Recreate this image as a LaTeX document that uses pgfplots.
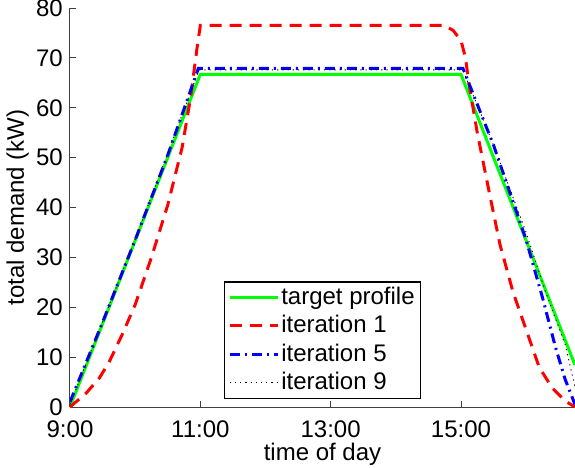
\documentclass[border=0pt]{standalone}
\usepackage{pgfplots}
\pgfplotsset{compat=1.18}
\usepackage{fontspec}
\setmainfont{Liberation Sans}
\newcommand{\bigf}{\fontsize{24bp}{28bp}\selectfont}
\begin{document}
\bigf
\begin{tikzpicture}
\begin{axis}[
  at={(0,0)}, anchor=south west,
  scale only axis, width=505bp, height=399bp,
  xmin=9, xmax=16.75, ymin=0, ymax=80,
  axis lines=left,
  axis line style={-, draw=black!75, line width=1bp},
  every tick/.style={draw=black!75, line width=0.8bp},
  tick align=inside, major tick length=6bp,
  xtick={9,11,13,15}, xticklabels={9:00,11:00,13:00,15:00},
  ytick={0,10,...,80},
  /pgf/number format/assume math mode=true,
  tick label style={font=\bigf},
  yticklabel style={inner xsep=7bp, inner ysep=2bp},
  xticklabel style={inner ysep=7bp, yshift=-7bp},
  label style={font=\bigf},
  xlabel={time of day}, ylabel={total demand (kW)},
  xlabel style={yshift=10bp},
  ylabel style={yshift=-8bp},
  legend style={at={(0.5,0.02)}, anchor=south, draw=black, line width=1.2bp,
    font=\bigf, row sep=3.5bp, inner xsep=4bp, inner ysep=3bp},
  legend cell align=left,
  legend image code/.code={\draw[#1] (0bp,0bp) -- (48bp,0bp);},
]
\addplot[draw={rgb,1:red,0;green,1;blue,0}, line width=3bp] coordinates {
(9,0) (11,66.7) (15,66.7) (16.75,8.4)};
\addplot[draw=red, line width=3bp, dash pattern=on 12bp off 8bp] coordinates {
(9,0) (9.25,2.8) (9.45,5.8) (9.6,9) (9.8,14.5) (10,20.5) (10.25,30) (10.5,40.5)
(10.72,52) (10.85,62) (10.95,72) (11,76.5) (14.75,76.5) (14.88,75.5) (15.0,73.5)
(15.07,70) (15.12,65) (15.25,55) (15.45,42) (15.6,32.5) (15.8,23) (16.0,15.5)
(16.2,8) (16.4,3.8) (16.6,1.2) (16.75,0)};
\addplot[draw=blue, line width=3bp, dash pattern=on 10bp off 5bp on 2bp off 5bp] coordinates {
(9,1) (9.5,17) (10,33.5) (10.5,50.5) (10.97,67.9) (15.03,67.9) (15.5,52.5)
(16.0,33.5) (16.25,22) (16.45,12) (16.6,5.5) (16.75,0.5)};
\addplot[draw=black, line width=0.9bp, dash pattern=on 1.2bp off 4bp] coordinates {
(9,0.5) (10,33.6) (10.98,67.6) (15.03,67.6) (15.5,52.5) (16.0,35) (16.3,23)
(16.6,12.5) (16.75,4)};
\legend{target profile, iteration 1, iteration 5, iteration 9}
\end{axis}
\pgfresetboundingbox
\path[use as bounding box] (-70bp,-61bp) rectangle (505bp,407bp);
\end{tikzpicture}
\end{document}
